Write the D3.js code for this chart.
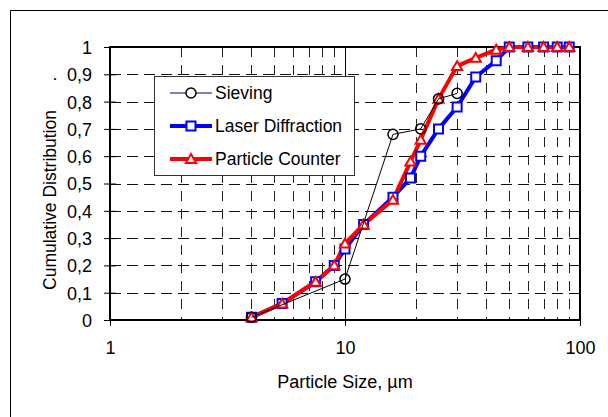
<!DOCTYPE html>
<html><head><meta charset="utf-8">
<script src="https://cdn.jsdelivr.net/npm/d3@7"></script>
<style>
html,body{margin:0;padding:0;background:#fff;}
svg{display:block;font-family:Arial,"Liberation Sans",sans-serif;}
</style></head>
<body>
<svg id="c" width="608" height="417"></svg>
<script>
const sizes   = [4, 5.4, 7.5, 9, 10, 12, 16, 19, 21, 25, 30, 36, 44, 50, 60, 70, 80, 90];
const laser   = [0.01,0.06,0.14,0.20,0.26,0.35,0.45,0.52,0.60,0.70,0.78,0.89,0.95,1,1,1,1,1];
const counter = [0.01,0.06,0.14,0.20,0.28,0.35,0.44,0.58,0.66,0.81,0.93,0.96,0.99,1,1,1,1,1];
const sieveSizes = [4, 10, 16, 21, 25, 30];
const sieving    = [0.01, 0.15, 0.68, 0.70, 0.81, 0.83];
const yTicks = [0,0.1,0.2,0.3,0.4,0.5,0.6,0.7,0.8,0.9,1];
const xTicks = [1,10,100];
const xMinor = [2,3,4,5,6,7,8,9,20,30,40,50,60,70,80,90];
const seriesNames = ["Sieving","Laser Diffraction","Particle Counter"];

const svg = d3.select("#c");
const L=110,R=580,T=47,B=320;
const x = d3.scaleLog().domain([1,100]).range([L,R]);
const y = d3.scaleLinear().domain([0,1]).range([B,T]);

// outer frame
svg.append("path").attr("d","M10.5,417 V10.5 H608").attr("fill","none").attr("stroke","#000").attr("stroke-width",1);

// plot background
svg.append("rect").attr("x",L).attr("y",T).attr("width",R-L).attr("height",B-T).attr("fill","#fff");

// grid
const g = svg.append("g");
g.selectAll("line.h").data(yTicks.filter(d=>d>0&&d<1)).join("line")
  .attr("x1",L).attr("x2",R).attr("y1",d=>Math.round(y(d))+0.5).attr("y2",d=>Math.round(y(d))+0.5)
  .attr("stroke","#111").attr("stroke-width",1).attr("stroke-dasharray","11,6");
g.selectAll("line.v").data(xMinor).join("line")
  .attr("y1",T).attr("y2",B).attr("x1",d=>Math.round(x(d))+0.5).attr("x2",d=>Math.round(x(d))+0.5)
  .attr("stroke","#222").attr("stroke-width",1).attr("stroke-dasharray","10,8");
g.append("line").attr("y1",T).attr("y2",B).attr("x1",Math.round(x(10))+0.5).attr("x2",Math.round(x(10))+0.5)
  .attr("stroke","#000").attr("stroke-width",1);

// axes
const fmt = d => (d===0||d===1) ? String(d) : d.toFixed(1).replace(".",",");
const ya = svg.append("g").attr("transform",`translate(${L},0)`)
  .call(d3.axisLeft(y).tickValues(yTicks).tickFormat(fmt).tickSize(6).tickPadding(12));
ya.select(".domain").remove();
ya.selectAll(".tick line").attr("x1",-6).attr("x2",6).attr("stroke","#000");
ya.selectAll(".tick text").attr("font-size",18).attr("fill","#000").attr("font-family","Arial,'Liberation Sans',sans-serif").attr("dy","0.36em");

const xa = svg.append("g").attr("transform",`translate(0,${B})`)
  .call(d3.axisBottom(x).tickValues(xTicks).tickFormat(d3.format("d")).tickSize(6).tickPadding(15));
xa.select(".domain").remove();
xa.selectAll(".tick line").attr("y1",-6).attr("y2",6).attr("stroke","#000");
xa.selectAll(".tick text").attr("font-size",18).attr("fill","#000").attr("font-family","Arial,'Liberation Sans',sans-serif");

// plot border
svg.append("rect").attr("x",L).attr("y",T).attr("width",R-L).attr("height",B-T)
  .attr("fill","none").attr("stroke","#000").attr("stroke-width",2);

// titles
svg.append("text").attr("x",(L+R)/2).attr("y",388).attr("text-anchor","middle")
  .attr("font-size",18).attr("fill","#000").text("Particle Size, µm");
svg.append("text").attr("transform","translate(50,200) rotate(-90)").attr("text-anchor","middle")
  .attr("dy","0.36em").attr("font-size",17.5).attr("fill","#000").text("Cumulative Distribution");
svg.append("text").attr("transform","translate(50,79) rotate(-90)").attr("text-anchor","middle")
  .attr("dy","0.36em").attr("font-size",17.5).attr("fill","#000").text(".");

// data
const laserData = sizes.map((s,i)=>({x:s,y:laser[i]}));
const counterData = sizes.map((s,i)=>({x:s,y:counter[i]}));
const sieveData = sieveSizes.map((s,i)=>({x:s,y:sieving[i]}));
const line = d3.line().x(d=>x(d.x)).y(d=>y(d.y));

svg.append("path").datum(laserData).attr("d",line).attr("fill","none").attr("stroke","#0000ff").attr("stroke-width",4).attr("stroke-linejoin","round");
svg.append("path").datum(counterData).attr("d",line).attr("fill","none").attr("stroke","#ff0000").attr("stroke-width",4).attr("stroke-linejoin","round");

const sq = d3.symbol().type(d3.symbolSquare).size(81);
const tri = d3.symbol().type(d3.symbolTriangle).size(45);
const circ = d3.symbol().type(d3.symbolCircle).size(80);

svg.append("g").selectAll("path").data(laserData).join("path")
  .attr("transform",d=>`translate(${x(d.x)},${y(d.y)})`).attr("d",sq)
  .attr("fill","#fff").attr("stroke","#0000ff").attr("stroke-width",2);
svg.append("g").selectAll("path").data(counterData).join("path")
  .attr("transform",d=>`translate(${x(d.x)},${y(d.y)+1})`).attr("d",tri)
  .attr("fill","#fff").attr("stroke","#ff0000").attr("stroke-width",2);

svg.append("path").datum(sieveData).attr("d",line).attr("fill","none").attr("stroke","#000").attr("stroke-width",1);
svg.append("g").selectAll("path").data(sieveData).join("path")
  .attr("transform",d=>`translate(${x(d.x)},${y(d.y)})`).attr("d",circ)
  .attr("fill","none").attr("stroke","#000").attr("stroke-width",1.5);

// legend
const lg = svg.append("g");
lg.append("rect").attr("x",154.5).attr("y",76.5).attr("width",200).attr("height",99)
  .attr("fill","#fff").attr("stroke","#333").attr("stroke-width",1);
const rows=[93,126,159];
const lcol=["#000080","#0000ff","#ff0000"], lw=[1,4,4];
seriesNames.forEach((n,i)=>{
  lg.append("line").attr("x1",170).attr("x2",212).attr("y1",rows[i]).attr("y2",rows[i])
    .attr("stroke",lcol[i]).attr("stroke-width",lw[i]);
  const m = lg.append("path").attr("transform",`translate(191,${rows[i]+(i===2?1:0)})`);
  if(i===0) m.attr("d",circ).attr("fill","#fff").attr("stroke","#000").attr("stroke-width",1.5);
  if(i===1) m.attr("d",sq).attr("fill","#fff").attr("stroke","#0000ff").attr("stroke-width",2);
  if(i===2) m.attr("d",tri).attr("fill","#fff").attr("stroke","#ff0000").attr("stroke-width",2);
  lg.append("text").attr("x",215).attr("y",rows[i]).attr("dy","0.36em")
    .attr("font-size",17.5).attr("fill","#000").text(n);
});
</script>
</body></html>
